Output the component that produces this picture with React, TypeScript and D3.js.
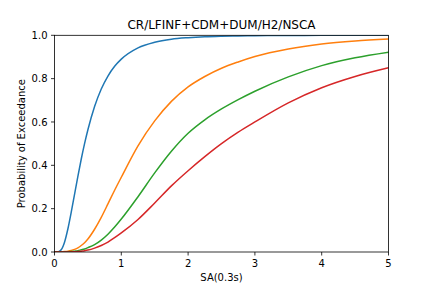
import React from "react";
import * as d3 from "d3";

const xs = [0, 0.05, 0.1, 0.15, 0.2, 0.25, 0.3, 0.35, 0.4, 0.45, 0.5, 0.6, 0.7, 0.8, 0.9, 1.0, 1.25, 1.5, 1.75, 2.0, 2.25, 2.5, 2.75, 3.0, 3.5, 4.0, 4.5, 5.0];
const blue = [0, 0.0004, 0.01, 0.045, 0.106, 0.183, 0.266, 0.349, 0.428, 0.5, 0.564, 0.671, 0.752, 0.812, 0.857, 0.89, 0.942, 0.968, 0.982, 0.989, 0.9934, 0.9958, 0.9973, 0.9982, 0.9993, 0.9997, 0.9999, 1.0];
const orange = [0, 0, 0.0005, 0.002, 0.004, 0.007, 0.012, 0.019, 0.03, 0.043, 0.06, 0.105, 0.16, 0.222, 0.285, 0.345, 0.49, 0.605, 0.695, 0.762, 0.81, 0.848, 0.877, 0.902, 0.937, 0.96, 0.974, 0.983];
const green = [0, 0, 0, 0.0005, 0.001, 0.002, 0.004, 0.006, 0.01, 0.014, 0.02, 0.034, 0.055, 0.082, 0.115, 0.152, 0.255, 0.365, 0.465, 0.548, 0.61, 0.66, 0.703, 0.742, 0.808, 0.86, 0.896, 0.922];
const red = [0, 0, 0, 0, 0, 0.0005, 0.001, 0.002, 0.004, 0.006, 0.009, 0.018, 0.03, 0.046, 0.066, 0.088, 0.15, 0.226, 0.305, 0.375, 0.44, 0.5, 0.553, 0.6, 0.688, 0.758, 0.81, 0.85];

const seriesList = [
  { name: "blue", values: blue, color: "#1f77b4" },
  { name: "orange", values: orange, color: "#ff7f0e" },
  { name: "green", values: green, color: "#2ca02c" },
  { name: "red", values: red, color: "#d62728" },
];

const xTicks = [0, 1, 2, 3, 4, 5];
const yTicks = [0, 0.2, 0.4, 0.6, 0.8, 1.0];
const title = "CR/LFINF+CDM+DUM/H2/NSCA";
const xLabel = "SA(0.3s)";
const yLabel = "Probability of Exceedance";

export default function App() {
  const W = 432, H = 288;
  const left = 54.5, right = 388.5, top = 35.3, bottom = 252;
  const x = d3.scaleLinear().domain([0, 5]).range([left, right]);
  const y = d3.scaleLinear().domain([0, 1]).range([bottom, top]);
  const line = d3
    .line<number>()
    .x((_, i) => x(xs[i]))
    .y((d) => y(d))
    .curve(d3.curveMonotoneX);
  const font = "DejaVu Sans, sans-serif";
  return (
    <svg
      width={W}
      height={H}
      style={{ position: "absolute", left: 0, top: 0, background: "#fff" }}
      fontFamily={font}
    >
      <rect x={0} y={0} width={W} height={H} fill="#fff" />
      <defs>
        <clipPath id="plotclip">
          <rect x={left} y={top} width={right - left} height={bottom - top} />
        </clipPath>
      </defs>
      <g clipPath="url(#plotclip)">
        {seriesList.map((s) => (
          <path key={s.name} d={line(s.values) || ""} fill="none" stroke={s.color} strokeWidth={1.5} strokeLinejoin="round" strokeLinecap="square" />
        ))}
      </g>
      <rect x={left} y={top} width={right - left} height={bottom - top} fill="none" stroke="#000" strokeWidth={0.8} />
      {xTicks.map((t) => (
        <g key={"x" + t}>
          <line x1={x(t)} x2={x(t)} y1={bottom} y2={bottom + 3.5} stroke="#000" strokeWidth={0.8} />
          <text x={x(t)} y={266.8} textAnchor="middle" fontSize={10} fill="#000">
            {t}
          </text>
        </g>
      ))}
      {yTicks.map((t) => (
        <g key={"y" + t}>
          <line x1={left - 3.5} x2={left} y1={y(t)} y2={y(t)} stroke="#000" strokeWidth={0.8} />
          <text x={left - 7} y={y(t) + 3.6} textAnchor="end" fontSize={10} fill="#000">
            {t.toFixed(1)}
          </text>
        </g>
      ))}
      <text x={(left + right) / 2} y={29.3} textAnchor="middle" fontSize={12} fill="#000">
        {title}
      </text>
      <text x={(left + right) / 2} y={280.5} textAnchor="middle" fontSize={10} fill="#000">
        {xLabel}
      </text>
      <text
        transform={`translate(24.5, ${(top + bottom) / 2}) rotate(-90)`}
        textAnchor="middle"
        fontSize={10}
        fill="#000"
      >
        {yLabel}
      </text>
    </svg>
  );
}
